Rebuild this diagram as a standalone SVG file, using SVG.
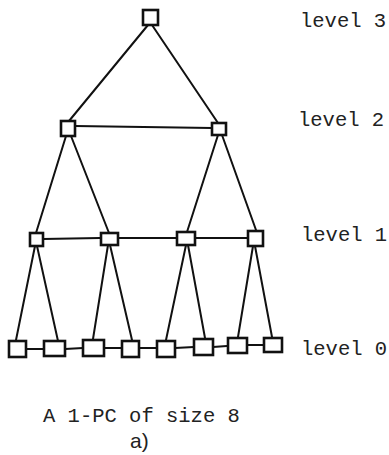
<svg xmlns="http://www.w3.org/2000/svg" width="389" height="455" viewBox="0 0 389 455">
<style>
.n{fill:#fff;stroke:#111;stroke-width:2.6}
.e{stroke:#111;stroke-width:2;fill:none;stroke-linecap:round}
.t{font-family:"Liberation Mono","Courier New",monospace;font-size:20.5px;fill:#222}
.h{font-family:"Liberation Sans",Arial,sans-serif;font-size:21px;fill:#222}
</style>
<rect width="389" height="455" fill="#fff"/>
<g id="edges">
<line class="e" x1="148" y1="25" x2="69" y2="121"/>
<line class="e" x1="152" y1="25" x2="218" y2="123"/>
<line class="e" x1="75" y1="126" x2="212" y2="128"/>
<line class="e" x1="66" y1="136" x2="36" y2="233"/>
<line class="e" x1="71" y1="136" x2="109" y2="233"/>
<line class="e" x1="218" y1="135" x2="187" y2="232"/>
<line class="e" x1="222" y1="135" x2="256" y2="230"/>
<line class="e" x1="43" y1="239" x2="100" y2="238"/>
<line class="e" x1="118" y1="238" x2="177" y2="238"/>
<line class="e" x1="195" y1="238" x2="247" y2="238"/>
<line class="e" x1="35" y1="246" x2="16" y2="340"/>
<line class="e" x1="37" y1="246" x2="58" y2="341"/>
<line class="e" x1="108" y1="245" x2="93" y2="339"/>
<line class="e" x1="110" y1="245" x2="132" y2="340"/>
<line class="e" x1="186" y1="245" x2="166" y2="340"/>
<line class="e" x1="188" y1="245" x2="205" y2="338"/>
<line class="e" x1="253" y1="246" x2="238" y2="337"/>
<line class="e" x1="255" y1="246" x2="272" y2="337"/>
<line class="e" x1="26" y1="349" x2="43" y2="349"/>
<line class="e" x1="65" y1="349" x2="83" y2="348"/>
<line class="e" x1="104" y1="348" x2="121" y2="348"/>
<line class="e" x1="139" y1="348" x2="156" y2="348"/>
<line class="e" x1="175" y1="348" x2="194" y2="347"/>
<line class="e" x1="213" y1="347" x2="227" y2="346"/>
<line class="e" x1="247" y1="345" x2="263" y2="345"/>
</g>
<g id="n3"><rect class="n" x="143" y="10" width="15" height="15"/></g>
<g id="n2a"><rect class="n" x="61" y="121" width="14" height="15"/></g>
<g id="n2b"><rect class="n" x="212" y="123" width="14" height="12"/></g>
<g id="n1a"><rect class="n" x="30" y="233" width="13" height="13"/></g>
<g id="n1b"><rect class="n" x="101" y="233" width="17" height="12"/></g>
<g id="n1c"><rect class="n" x="177" y="232" width="18" height="13"/></g>
<g id="n1d"><rect class="n" x="248" y="231" width="15" height="15"/></g>
<g id="n0a"><rect class="n" x="9" y="341" width="17" height="16"/></g>
<g id="n0b"><rect class="n" x="44" y="341" width="21" height="15"/></g>
<g id="n0c"><rect class="n" x="83" y="340" width="21" height="16"/></g>
<g id="n0d"><rect class="n" x="122" y="341" width="17" height="16"/></g>
<g id="n0e"><rect class="n" x="157" y="341" width="18" height="16"/></g>
<g id="n0f"><rect class="n" x="194" y="339" width="19" height="16"/></g>
<g id="n0g"><rect class="n" x="228" y="338" width="19" height="15"/></g>
<g id="n0h"><rect class="n" x="264" y="338" width="18" height="14"/></g>
<g id="labels">
<text class="t" x="300" y="27">level 3</text>
<text class="t" x="298" y="126">level 2</text>
<text class="t" x="301" y="241">level 1</text>
<text class="t" x="301" y="355">level 0</text>
<text class="t" x="43" y="422">A 1-PC of size 8</text>
<text class="h" x="130" y="448">a)</text>
</g>
</svg>
